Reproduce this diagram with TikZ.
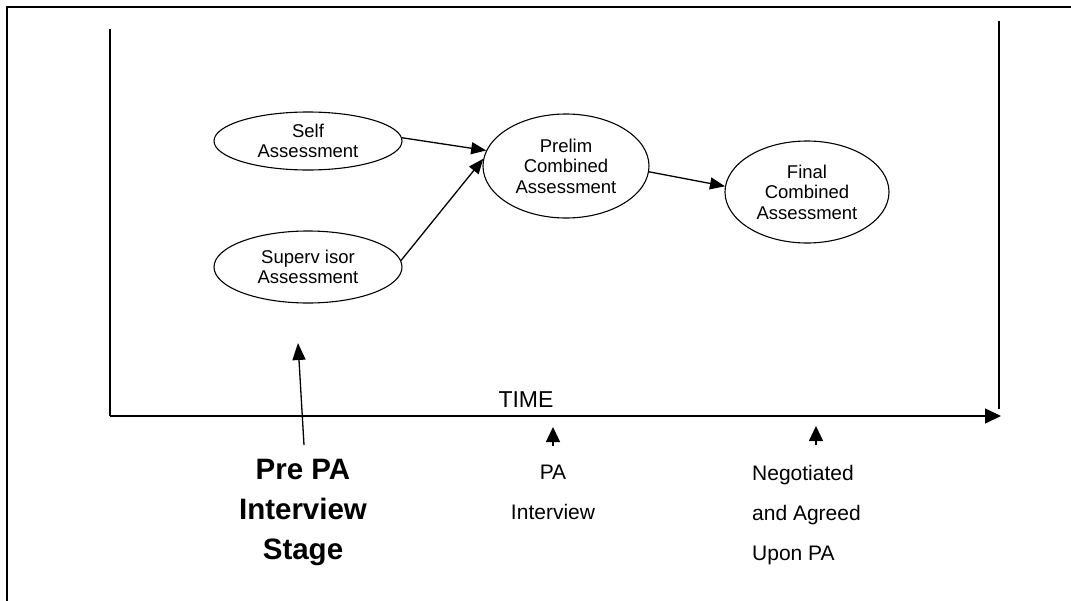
\documentclass[tikz,border=0pt]{standalone}
\usepackage{fontspec}
\setmainfont{Liberation Sans}
\usetikzlibrary{arrows.meta,shapes.geometric}
\begin{document}
\begin{tikzpicture}[x=1pt,y=-1pt,
  ell/.style={ellipse,draw,line width=1.1pt,inner sep=0pt,align=center,
    font={\fontsize{18.5}{20.5}\selectfont}},
  conn/.style={line width=1.3pt,-{Triangle[length=15pt,width=12pt]}},
  tickarrow/.style={line width=1.3pt,-{Triangle[length=15pt,width=14pt]}},
  lbl/.style={inner sep=0pt,anchor=north,font={\fontsize{21}{40}\selectfont}},
  bigl/.style={inner sep=0pt,anchor=north,align=center,font={\fontsize{29.5}{40}\selectfont\bfseries}},
  frameline/.style={line width=2pt},
  axisline/.style={line width=1.5pt}]
\useasboundingbox (0,0) rectangle (1071,600);
\clip (0,0) rectangle (1071,600);
\fill[white] (0,0) rectangle (1071,600);

% outer frame
\coordinate (fbl) at (7,640);
\coordinate (ftl) at (7,7);
\coordinate (ftr) at (1100,7);
\draw[frameline] (fbl) -- (ftl) -- (ftr);

% axes
\coordinate (ltop) at (110,29);
\coordinate (origin) at (110,416);
\coordinate (axend) at (1001,416);
\coordinate (rtop) at (999,21);
\coordinate (rbot) at (999,409);
\draw[axisline] (ltop) -- (origin);
\draw[axisline,-{Triangle[length=16pt,width=15pt]}] (origin) -- (axend);
\draw[line width=1.3pt] (rtop) -- (rbot);
\node[anchor=base,inner sep=0pt,font={\fontsize{23}{26}\selectfont}] (time) at (526,407) {TIME};

% ellipses
\node[ell,minimum width=188pt,minimum height=58pt] (self) at (308,141) {Self\\Assessment};
\node[ell,minimum width=188pt,minimum height=72pt] (sup) at (308,267) {Superv isor\\Assessment};
\node[ell,minimum width=166pt,minimum height=104pt] (prelim) at (566,166) {Prelim\\Combined\\Assessment};
\node[ell,minimum width=164pt,minimum height=102pt] (final) at (807,192) {Final\\Combined\\Assessment};

\draw[conn] (self.2) -- (prelim.169);
\draw[conn] (sup.4) -- (prelim.175);
\draw[conn] (prelim.-4) -- (final.176);

% bottom labels
\node[bigl] (pre) at (303,459) {Pre PA\\Interview\\Stage};
\node[lbl,align=center] (pai) at (553,465) {PA\\Interview};
\node[lbl,align=left,anchor=north west] (neg) at (752,465) {Negotiated\\and Agreed\\Upon PA};

\coordinate (preb) at (304,445);
\coordinate (pret) at (298,343);
\draw[line width=1.3pt,-{Triangle[length=17pt,width=13pt]}] (preb) -- (pret);

\coordinate (paib) at (553,446);
\coordinate (pait) at (553,427);
\draw[tickarrow] (paib) -- (pait);

\coordinate (negb) at (816,445);
\coordinate (negt) at (816,426);
\draw[tickarrow] (negb) -- (negt);
\end{tikzpicture}
\end{document}
